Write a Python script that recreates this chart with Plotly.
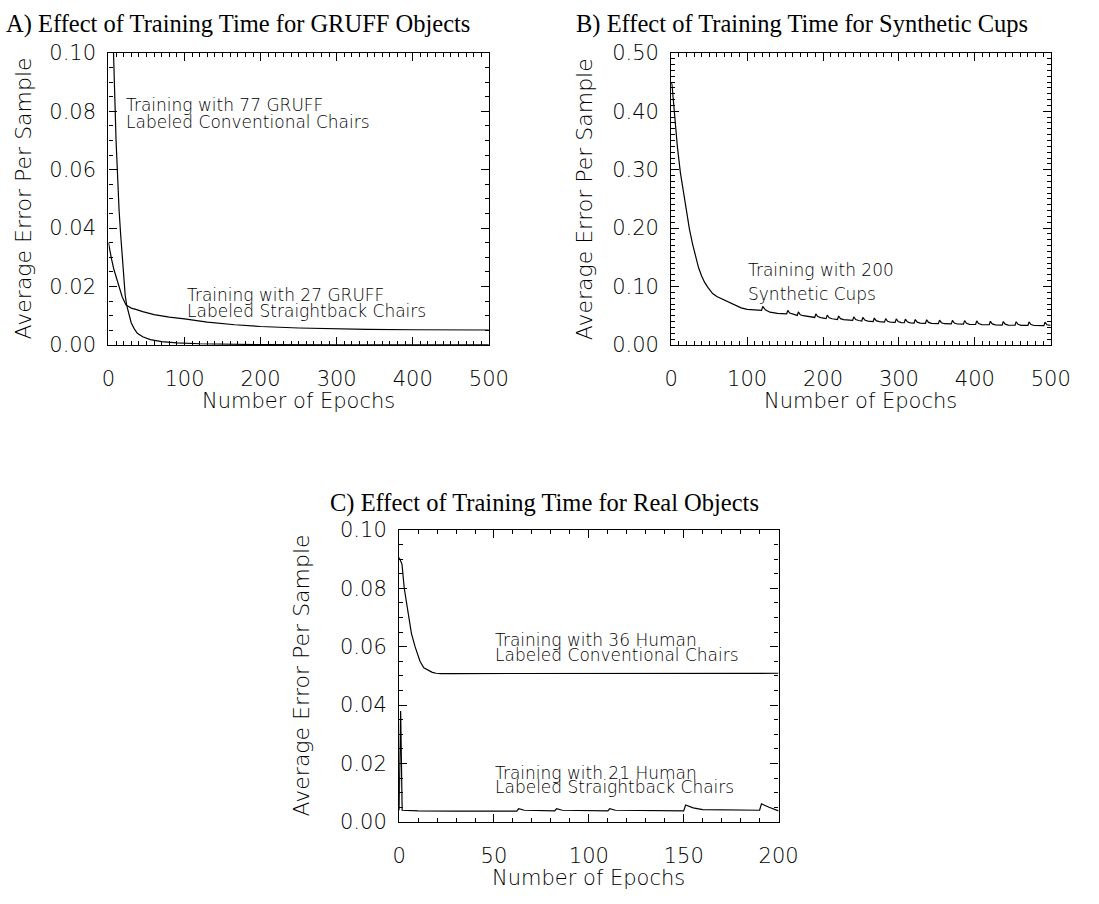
import plotly.graph_objects as go

W, H = 1099, 904

# ---------------- data ----------------
# Panel A: GRUFF objects
a_conv_epochs = [0, 2, 4, 6, 8, 10, 12, 14, 16, 18, 20, 22, 24, 27, 30, 34, 38, 45, 55, 70, 90, 120, 160, 200, 300, 400, 500]
a_conv_error = [0.16, 0.14, 0.12, 0.104, 0.088, 0.070, 0.056, 0.046, 0.038, 0.030, 0.022, 0.017, 0.0135, 0.010, 0.0075,
                0.0055, 0.0040, 0.0028, 0.0018, 0.0011, 0.0007, 0.0004, 0.0002, 0.0001, 0.00005, 0.00003, 0.00002]
a_straight_epochs = [0, 2, 4, 7, 10, 14, 18, 23, 30, 37, 45, 60, 80, 100, 130, 166, 200, 250, 300, 340, 400, 450, 500]
a_straight_error = [0.035, 0.032, 0.0295, 0.026, 0.0232, 0.0196, 0.0165, 0.0137, 0.0126, 0.0121, 0.0114, 0.0104, 0.0095,
                    0.0089, 0.0078, 0.0069, 0.0063, 0.0058, 0.0055, 0.0053, 0.0052, 0.0051, 0.0051]

# Panel B: synthetic cups
b_epochs = [0, 1, 4, 8, 12, 16, 20, 24, 28, 32, 36, 40, 44, 48, 51, 54.5, 60, 65, 76, 85, 92, 100, 110, 119,
            120.5, 124, 130, 140,
            152, 153.5, 156, 160,
            166, 167.5, 170, 174,
            189, 190.5, 193, 197,
            204, 205.5, 208, 212,
            219, 220.5, 223, 227,
            239, 240.5, 243, 247,
            251, 252.5, 255, 259,
            266, 267.5, 270, 274,
            281, 282.5, 285, 289,
            295, 296.5, 299, 303,
            307, 308.5, 311, 315,
            320, 321.5, 324, 328,
            335, 336.5, 339, 343,
            352, 353.5, 356, 360,
            369, 370.5, 373, 377,
            385, 386.5, 389, 393,
            401, 402.5, 405, 409,
            419, 420.5, 423, 427,
            436, 437.5, 440, 444,
            453, 454.5, 457, 461,
            470, 471.5, 474, 478,
            491, 492.5, 495, 500]
b_error = [0.450, 0.445, 0.400, 0.340, 0.295, 0.260, 0.228, 0.198, 0.173, 0.150, 0.132, 0.118, 0.107, 0.099, 0.094,
           0.088, 0.083, 0.080, 0.073, 0.067, 0.0635, 0.061, 0.0595, 0.059,
           0.066, 0.060, 0.056, 0.054,
           0.0530, 0.0590, 0.0545, 0.0525,
           0.0505, 0.0565, 0.0515, 0.0500,
           0.0470, 0.0530, 0.0485, 0.0468,
           0.0450, 0.0510, 0.0465, 0.0448,
           0.0435, 0.0495, 0.0450, 0.0433,
           0.0420, 0.0480, 0.0435, 0.0418,
           0.0410, 0.0470, 0.0425, 0.0408,
           0.0400, 0.0460, 0.0415, 0.0398,
           0.0390, 0.0450, 0.0405, 0.0388,
           0.0385, 0.0445, 0.0400, 0.0383,
           0.0380, 0.0440, 0.0395, 0.0378,
           0.0375, 0.0435, 0.0390, 0.0373,
           0.0370, 0.0430, 0.0385, 0.0368,
           0.0365, 0.0425, 0.0380, 0.0363,
           0.0360, 0.0420, 0.0375, 0.0358,
           0.0355, 0.0415, 0.0370, 0.0353,
           0.0350, 0.0410, 0.0365, 0.0348,
           0.0345, 0.0405, 0.0360, 0.0343,
           0.0340, 0.0400, 0.0355, 0.0338,
           0.0337, 0.0397, 0.0352, 0.0335,
           0.0334, 0.0394, 0.0349, 0.0332,
           0.0330, 0.0390, 0.0345, 0.0335]

# Panel C: real objects
c_conv_epochs = [0, 1.5, 2.7, 4, 5, 6.5, 8.4, 10, 11, 13, 15.3, 17.5, 19.5, 22, 30, 60, 100, 150, 200]
c_conv_error = [0.0905, 0.0883, 0.080, 0.0745, 0.070, 0.0645, 0.060, 0.0568, 0.055, 0.0528, 0.052, 0.0512, 0.0509,
                0.0508, 0.0508, 0.0508, 0.0508, 0.0508, 0.0509]
c_straight_epochs = [0, 0.8, 1.6, 10, 30, 50, 62, 63, 66, 82, 83, 86, 110, 111, 114, 150, 151, 155, 160, 190, 191, 195, 200]
c_straight_error = [0.0040, 0.0380, 0.0040, 0.0038, 0.0037, 0.0037, 0.0037, 0.0045, 0.0040, 0.0038, 0.0045, 0.0040,
                    0.0038, 0.0045, 0.0040, 0.0038, 0.0058, 0.0048, 0.0042, 0.0040, 0.0062, 0.0050, 0.0038]

titles = ["A) Effect of Training Time for GRUFF Objects",
          "B) Effect of Training Time for Synthetic Cups",
          "C) Effect of Training Time for Real Objects"]
y_title = "Average Error Per Sample"
x_title = "Number of Epochs"

# ---------------- layout helpers ----------------
def px_x(p):
    return p / W

def px_y(p):
    return 1 - p / H

SANS = "DejaVu Sans"
SERIF = "Liberation Serif"
tick_font = dict(family=SANS, size=21, color="black", weight=200)
ylab_font = dict(family=SANS, size=22, color="black", weight=200)
xlab_font = dict(family=SANS, size=21, color="black", weight=200)
note_font = dict(family=SANS, size=17, color="black", weight=200)
title_font = dict(family=SERIF, size=24.5, color="black")


def axis(domain, rng, dtick, minor_dtick, fmt, is_x):
    d = dict(domain=domain, range=rng, dtick=dtick, tick0=0, tickformat=fmt,
             showline=True, linecolor="black", linewidth=1.3, mirror="allticks",
             ticks="inside", ticklen=8, tickwidth=1.1, tickcolor="black",
             minor=dict(ticks="inside", ticklen=4, dtick=minor_dtick, tick0=0,
                        tickcolor="black", tickwidth=1),
             showgrid=False, zeroline=False, tickfont=tick_font, fixedrange=True)
    d["ticklabelstandoff"] = 15 if is_x else 7
    return d


fig = go.Figure()

line = dict(color="black", width=1.2)
fig.add_trace(go.Scatter(x=a_conv_epochs, y=a_conv_error, mode="lines", line=line, xaxis="x", yaxis="y", showlegend=False))
fig.add_trace(go.Scatter(x=a_straight_epochs, y=a_straight_error, mode="lines", line=line, xaxis="x", yaxis="y", showlegend=False))
fig.add_trace(go.Scatter(x=b_epochs, y=b_error, mode="lines", line=line, xaxis="x2", yaxis="y2", showlegend=False))
fig.add_trace(go.Scatter(x=c_conv_epochs, y=c_conv_error, mode="lines", line=line, xaxis="x3", yaxis="y3", showlegend=False))
fig.add_trace(go.Scatter(x=c_straight_epochs, y=c_straight_error, mode="lines", line=line, xaxis="x3", yaxis="y3", showlegend=False))

# plot rectangles in pixels (left, right, top, bottom)
A = (104, 494, 42, 342)
B = (681, 1070, 42, 342)
C = (402, 791, 532, 832)

def dom(r):
    return [px_x(r[0]), px_x(r[1])], [px_y(r[3]), px_y(r[2])]

axd, ayd = dom(A)
bxd, byd = dom(B)
cxd, cyd = dom(C)

fig.update_layout(
    width=W, height=H, margin=dict(l=0, r=0, t=0, b=0),
    paper_bgcolor="white", plot_bgcolor="white",
    xaxis=dict(axis(axd, [0, 500], 100, 10, "d", True), anchor="y"),
    yaxis=dict(axis(ayd, [0, 0.1], 0.02, 0.005, ".2f", False), anchor="x"),
    xaxis2=dict(axis(bxd, [0, 500], 100, 10, "d", True), anchor="y2"),
    yaxis2=dict(axis(byd, [0, 0.5], 0.1, 0.01, ".2f", False), anchor="x2"),
    xaxis3=dict(axis(cxd, [0, 200], 50, 10, "d", True), anchor="y3"),
    yaxis3=dict(axis(cyd, [0, 0.1], 0.02, 0.005, ".2f", False), anchor="x3"),
)

ann = []
# panel titles
for t, cx, cy in [(titles[0], 237, 12), (titles[1], 815, 12), (titles[2], 551, 504)]:
    ann.append(dict(text=t, x=px_x(cx), y=px_y(cy), xref="paper", yref="paper", showarrow=False,
                    xanchor="center", yanchor="middle", font=title_font))
# axis titles
for cx, cy in [(17, 192), (592, 192), (302, 682)]:
    ann.append(dict(text=y_title, x=px_x(cx), y=px_y(cy), xref="paper", yref="paper", showarrow=False,
                    xanchor="center", yanchor="middle", textangle=-90, font=ylab_font))
for cx, cy in [(299, 400), (875, 400), (596, 890)]:
    ann.append(dict(text=x_title, x=px_x(cx), y=px_y(cy), xref="paper", yref="paper", showarrow=False,
                    xanchor="center", yanchor="middle", font=xlab_font))

# in-plot notes (data coordinates)
notes = [
    ("x", "y", 20.5, 0.0820, "Training with 77 GRUFF"),
    ("x", "y", 20.5, 0.0765, "Labeled Conventional Chairs"),
    ("x", "y", 100, 0.0170, "Training with 27 GRUFF"),
    ("x", "y", 100, 0.0115, "Labeled Straightback Chairs"),
    ("x2", "y2", 99, 0.128, "Training with 200"),
    ("x2", "y2", 99, 0.0867, "Synthetic Cups"),
    ("x3", "y3", 49.4, 0.0622, "Training with 36 Human"),
    ("x3", "y3", 49.4, 0.0572, "Labeled Conventional Chairs"),
    ("x3", "y3", 49.5, 0.0168, "Training with 21 Human"),
    ("x3", "y3", 49.5, 0.0118, "Labeled Straightback Chairs"),
]
for xr, yr, x, y, t in notes:
    ann.append(dict(text=t, x=x, y=y, xref=xr, yref=yr, showarrow=False, xanchor="left", yanchor="middle",
                    font=note_font))

fig.update_layout(annotations=ann)
fig.write_html("out.html")
